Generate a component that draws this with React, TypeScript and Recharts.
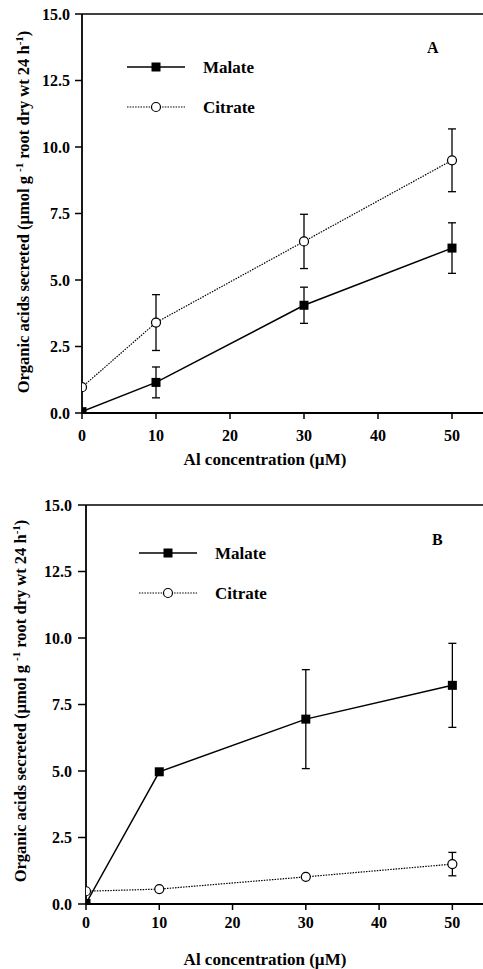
import React from 'react';
import { LineChart, Line, XAxis, YAxis, ErrorBar, ReferenceLine } from 'recharts';

const concentrations = [0, 10, 30, 50];
const malateA = [0.05, 1.15, 4.05, 6.2];
const malateAErr = [0, 0.58, 0.68, 0.95];
const citrateA = [0.97, 3.4, 6.45, 9.5];
const citrateAErr = [0, 1.05, 1.02, 1.18];
const malateB = [0.02, 4.97, 6.95, 8.22];
const malateBErr = [0, 0, 1.86, 1.58];
const citrateB = [0.48, 0.56, 1.02, 1.5];
const citrateBErr = [0, 0, 0, 0.44];
const xTicks = [0, 10, 20, 30, 40, 50];
const yTicks = [0, 2.5, 5, 7.5, 10, 12.5, 15];
const seriesNames = ['Malate', 'Citrate'];
const xTitle = 'Al concentration (\u00b5M)';

const FONT = '"Liberation Serif", "Times New Roman", Times, serif';

const build = (m: number[], me: number[], c: number[], ce: number[]) =>
  concentrations.map((x, i) => ({ x, malate: m[i], malateErr: me[i], citrate: c[i], citrateErr: ce[i] }));

const dataA = build(malateA, malateAErr, citrateA, citrateAErr);
const dataB = build(malateB, malateBErr, citrateB, citrateBErr);

const SquareDot = (props: any) => {
  const { cx, cy, index } = props;
  if (cx == null || cy == null) return <g key={index} />;
  return <rect key={index} x={cx - 4.5} y={cy - 4.5} width={9} height={9} fill="#000" />;
};

const CircleDot = (props: any) => {
  const { cx, cy, index } = props;
  if (cx == null || cy == null) return <g key={index} />;
  return <circle key={index} cx={cx} cy={cy} r={4.5} fill="#fff" stroke="#000" strokeWidth={1.2} />;
};

type PanelProps = {
  data: any[];
  top: number;
  height: number;
  marginTop: number;
  marginLeft: number;
  marginBottom: number;
  xTickMargin: number;
  yTickSize: number;
  yTickMargin: number;
  letter: string;
  letterPos: [number, number];
  legendX: number;
  legendY: [number, number];
  textX: number;
  yTitlePos: [number, number];
  xTitlePos: [number, number];
};

const Panel = (p: PanelProps) => {
  const tick = { fill: '#000', fontSize: 16, fontWeight: 'bold', fontFamily: FONT };
  const [lx1, lx2] = [p.legendX, p.legendX + 58];
  const lmid = (lx1 + lx2) / 2;
  return (
    <div style={{ position: 'absolute', left: 0, top: p.top }}>
      <LineChart
        width={492}
        height={p.height}
        data={p.data}
        margin={{ top: p.marginTop, right: 3, left: p.marginLeft, bottom: p.marginBottom }}
      >
        <XAxis
          type="number"
          dataKey="x"
          domain={[0, 55]}
          ticks={xTicks}
          allowDataOverflow
          axisLine={{ stroke: '#000', strokeWidth: 1.8 }}
          tickLine={{ stroke: '#000', strokeWidth: 1.5 }}
          tickSize={6}
          tickMargin={p.xTickMargin}
          tick={tick}
          height={30}
        />
        <YAxis
          type="number"
          domain={[0, 15]}
          ticks={yTicks}
          width={70}
          allowDataOverflow
          tickFormatter={(v: number) => v.toFixed(1)}
          axisLine={{ stroke: '#000', strokeWidth: 1.8 }}
          tickLine={{ stroke: '#000', strokeWidth: 1.5 }}
          tickSize={p.yTickSize}
          tickMargin={p.yTickMargin}
          tick={tick}
        />
        <ReferenceLine y={15} stroke="#000" strokeWidth={1.6} />
        <Line
          dataKey="malate"
          name={seriesNames[0]}
          stroke="#000"
          strokeWidth={1.5}
          dot={<SquareDot />}
          isAnimationActive={false}
        >
          <ErrorBar dataKey="malateErr" width={4} stroke="#000" strokeWidth={1.3} direction="y" />
        </Line>
        <Line
          dataKey="citrate"
          name={seriesNames[1]}
          stroke="#000"
          strokeWidth={1.2}
          strokeDasharray="1.5 1.2"
          dot={<CircleDot />}
          isAnimationActive={false}
        >
          <ErrorBar dataKey="citrateErr" width={4} stroke="#000" strokeWidth={1.3} direction="y" />
        </Line>
        <g fontFamily={FONT} fontWeight="bold" fill="#000">
          <line x1={lx1} x2={lx2} y1={p.legendY[0]} y2={p.legendY[0]} stroke="#000" strokeWidth={1.5} />
          <rect x={lmid - 4.5} y={p.legendY[0] - 4.5} width={9} height={9} fill="#000" />
          <text x={p.textX} y={p.legendY[0] + 6} fontSize={17}>{seriesNames[0]}</text>
          <line
            x1={lx1}
            x2={lx2}
            y1={p.legendY[1]}
            y2={p.legendY[1]}
            stroke="#000"
            strokeWidth={1.2}
            strokeDasharray="1.5 1.2"
          />
          <circle cx={lmid} cy={p.legendY[1]} r={4.5} fill="#fff" stroke="#000" strokeWidth={1.2} />
          <text x={p.textX} y={p.legendY[1] + 6} fontSize={17}>{seriesNames[1]}</text>
          <text x={p.letterPos[0]} y={p.letterPos[1]} fontSize={16}>{p.letter}</text>
          <text x={p.xTitlePos[0]} y={p.xTitlePos[1]} fontSize={17} textAnchor="middle">{xTitle}</text>
          <text
            x={p.yTitlePos[0]}
            y={p.yTitlePos[1]}
            fontSize={16.5}
            textAnchor="middle"
            transform={`rotate(-90, ${p.yTitlePos[0]}, ${p.yTitlePos[1]})`}
          >
            <tspan>Organic acids secreted (µmol g </tspan>
            <tspan dy={-6} fontSize={11}>-1</tspan>
            <tspan dy={6}> root dry wt 24 h</tspan>
            <tspan dy={-6} fontSize={11}>-1</tspan>
            <tspan dy={6}>)</tspan>
          </text>
        </g>
      </LineChart>
    </div>
  );
};

export default function App() {
  return (
    <div
      style={{
        position: 'absolute',
        left: 0,
        top: 0,
        width: 483,
        height: 969,
        overflow: 'hidden',
        background: '#fff',
      }}
    >
      <Panel
        data={dataA}
        top={0}
        height={480}
        marginTop={14}
        marginLeft={12}
        marginBottom={37}
        xTickMargin={11}
        yTickSize={7}
        yTickMargin={5}
        letter="A"
        letterPos={[427, 53]}
        legendX={127}
        legendY={[67, 107]}
        textX={203}
        yTitlePos={[29, 212]}
        xTitlePos={[265, 465]}
      />
      <Panel
        data={dataB}
        top={480}
        height={489}
        marginTop={25}
        marginLeft={16}
        marginBottom={35}
        xTickMargin={7}
        yTickSize={8}
        yTickMargin={6}
        letter="B"
        letterPos={[432, 65]}
        legendX={139}
        legendY={[73, 113]}
        textX={215}
        yTitlePos={[26, 221]}
        xTitlePos={[265, 485]}
      />
    </div>
  );
}
